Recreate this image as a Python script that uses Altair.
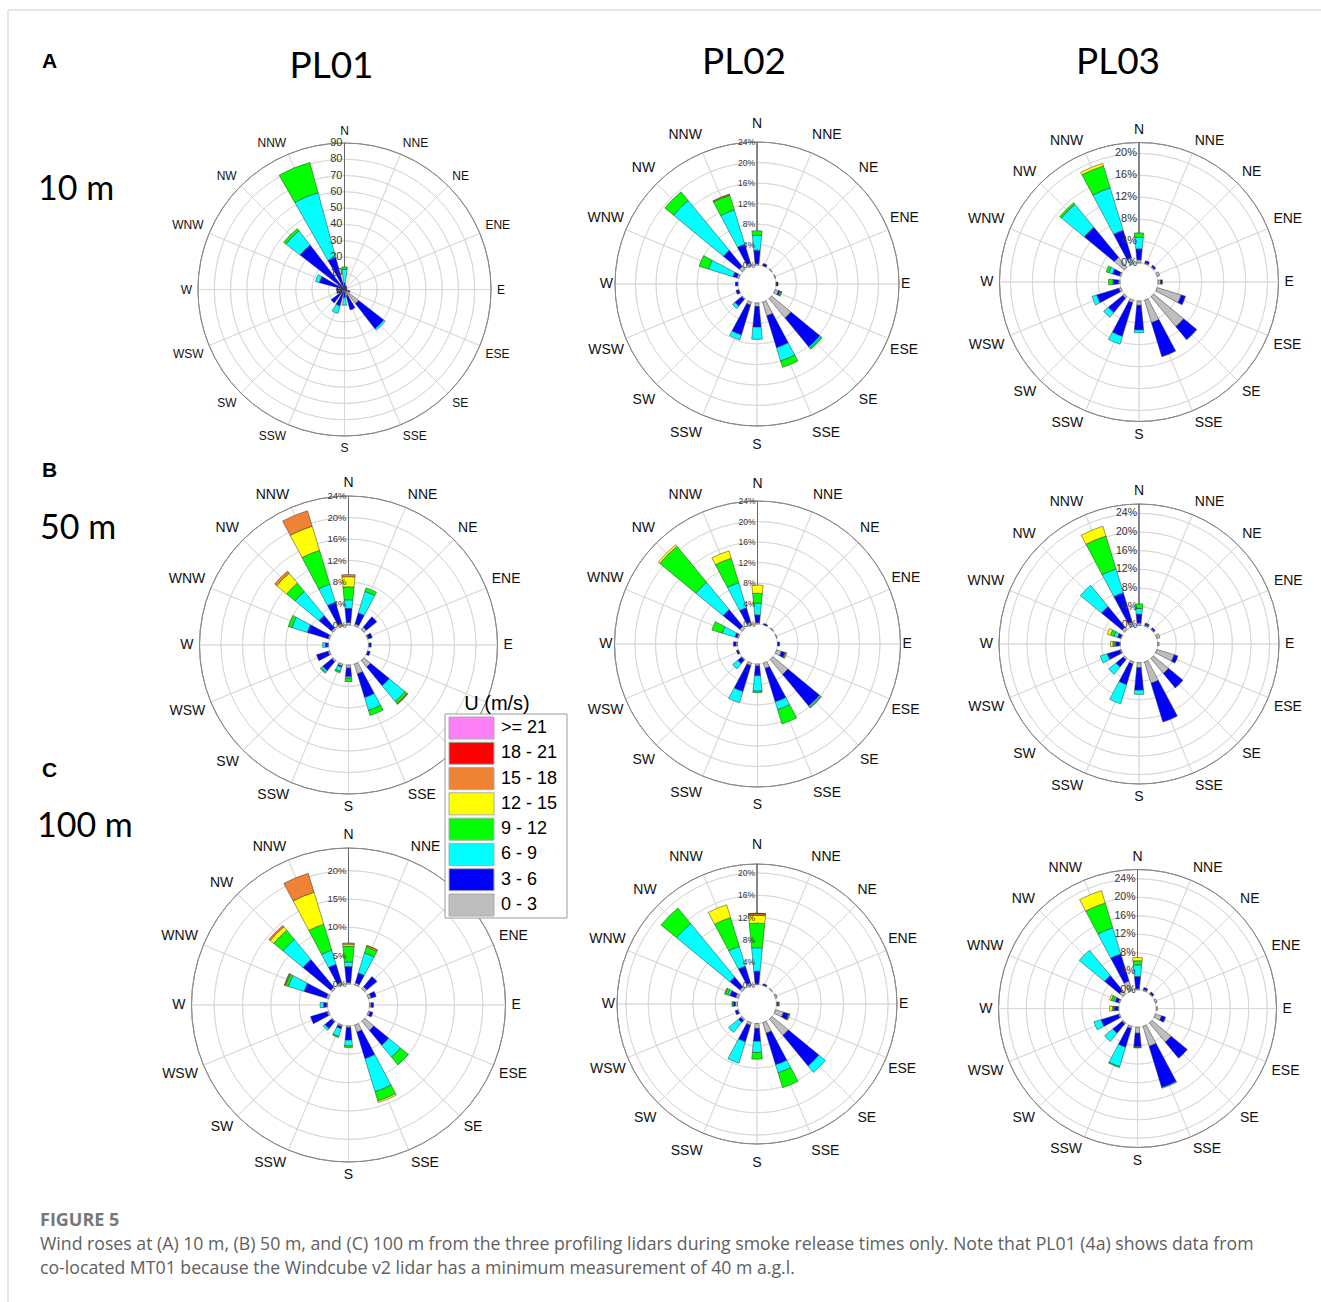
import math
import altair as alt
import pandas as pd

# ---------------------------------------------------------------- data
DIRS = ["N", "NNE", "NE", "ENE", "E", "ESE", "SE", "SSE",
        "S", "SSW", "SW", "WSW", "W", "WNW", "NW", "NNW"]
BINS = ["0 - 3", "3 - 6", "6 - 9", "9 - 12", "12 - 15", "15 - 18", "18 - 21", ">= 21"]
BIN_COLORS = ["#bebebe", "#0000ff", "#00ffff", "#00ff00", "#ffff00",
              "#ef8333", "#ff0000", "#ff80f6"]

# one row per direction (N ... NNW, clockwise); values per speed bin 0-3, 3-6, 6-9, ...
PL01_10M = [[1, 3, 8.4, 1.5], [0.5, 2], [0.5, 1.5], [0.5, 1], [0.5, 1], [1, 2.5],
            [11, 19.5, 1.2], [4, 9], [2, 3, 4.6], [2, 8.5, 4.8], [2, 8.4], [1, 4],
            [1, 4], [1, 15, 2.5], [1, 33.5, 11.1, 1.7], [1, 19.5, 41.1, 19.3]]
PL02_10M = [[0.3, 2.6, 2.9, 0.9], [0.1, 0.4], [0.15], [0.15], [0.1, 0.3],
            [0.7, 0.3, 0.2, 0.2], [4.9, 7.3, 0.3, 0.3], [2.8, 6.5, 2.7, 1.3],
            [0.7, 4.0, 2.4], [0.6, 6.1, 1.0], [0.2, 1.7, 0.6], [0.1, 0.5], [0.1, 0.4],
            [0.4, 0.8, 5.0, 1.9], [0.8, 4.0, 12.6, 2.2], [0.6, 3.8, 7.0, 3.0, 0.15, 0.1]]
PL03_10M = [[0.6, 2.0, 2.1, 0.8], [0.2, 0.4], [0.2, 0.3], [0.5], [0.5, 0.3], [4.6, 0.8],
            [7.1, 3.1], [4.3, 6.5], [0.8, 4.5, 0.5], [0.5, 6.4, 1.5], [0.4, 3.4, 1.1],
            [0.4, 4.2, 0.9], [0.3, 0.9, 0.1, 0.8], [0.3, 1.3, 0.7, 0.5],
            [2.4, 7.1, 5.4, 0.4], [1.2, 5.2, 8.1, 4.2, 0.5]]
PL01_50M = [[0.5, 2.6, 1.6, 2.4, 1.9, 0.4], [0.4, 2.1, 4.2, 0.7], [0.6, 2.5], [0.2, 0.7],
            [0.2, 0.3], [0.1, 0.4], [1.6, 4.5, 3.8, 0.5, 0.1, 0.1], [1.9, 4.6, 2.5, 1.0],
            [0.6, 1.6, 0.3, 0.6], [0.4, 0.2, 0.8, 0.3], [0.3, 2.2, 0.4, 0.2], [0.3, 2.2],
            [0.2, 0.4, 0.5], [0.3, 4.0, 3.0, 0.7], [0.4, 3.0, 5.8, 2.0, 2.4, 0.5],
            [0.5, 4.1, 3.5, 6.6, 4.7, 3.0]]
PL02_50M = [[0.3, 1.5, 2.3, 1.9, 1.6], [0.1, 0.2], [0.2], [0.1], [0.1, 0.3],
            [1.0, 0.7, 0.1, 0.1, 0.2], [3.8, 8.0, 0.3, 0.2], [1.1, 6.8, 1.6, 2.9],
            [0.4, 1.9, 3.0, 0.3], [0.5, 5.3, 2.3], [0.2, 0.9, 1.3], [0.1, 0.3], [0.3, 0.5],
            [0.3, 0.4, 2.6, 2.1], [0.6, 4.2, 6.9, 9.1, 0.4], [0.6, 2.9, 5.1, 5.0, 1.5]]
PL03_50M = [[0.5, 1.9, 1.2, 1.0], [0.3, 0.3, 0.1], [0.2, 0.3], [0.7], [0.3], [3.9, 0.8],
            [4.2, 4.0], [4.8, 8.7], [1.1, 4.8, 0.9], [0.5, 4.6, 4.3], [0.4, 2.0, 2.0],
            [0.3, 2.8, 1.6], [0.2, 0.8, 0.2, 0.4, 0.5], [0.2, 0.6, 0.8, 0.8, 0.7],
            [0.7, 5.7, 5.9], [1.0, 6.5, 5.3, 7.4, 2.2]]
PL01_100M = [[0.3, 2.8, 0.8, 2.8, 0.35, 0.2], [0.4, 1.8, 3.7, 1.1, 0.2, 0.1], [0.5, 2.3],
             [0.5, 0.9], [0.3, 0.4], [0.3, 0.5], [2.1, 3.4, 2.7, 1.8],
             [1.3, 4.9, 6.1, 1.7, 0.3], [0.3, 2.2, 1.0, 0.3], [0.3, 0.4, 1.4, 0.2],
             [0.2, 1.5, 0.4], [0.3, 3.0], [0.2, 0.5, 0.6], [0.4, 4.1, 2.9, 0.5, 0.15, 0.1],
             [0.4, 6.3, 4.6, 2.1, 0.8, 0.3], [0.5, 3.3, 2.6, 4.8, 5.9, 3.5]]
PL02_100M = [[0.2, 2.2, 4.2, 4.4, 1.4, 0.3, 0.1], [0.1, 0.2], [0.1], [0.3],
             [0.2, 0.1, 0, 0.1, 0.1], [1.5, 0.9, 0.1, 0.1, 0.1], [3.8, 7.1, 1.5],
             [2.0, 5.9, 1.5, 2.8], [0.9, 2.3, 2.0, 1.2], [0.5, 3.1, 4.0], [0.3, 0.5, 2.3],
             [0.2, 0.4], [0.4, 0.3, 0.1, 0.2], [0.5, 1.1, 0.4, 0.5, 0.1],
             [0.5, 2.3, 12.4, 3.6], [0.5, 3.1, 3.7, 5.4, 2.4]]
PL03_100M = [[0.3, 2.6, 2.5, 0.9, 0.7], [0.3, 0.4], [0.2, 0.4], [0.4], [0.3], [1.4, 0.9],
             [5.4, 4.5], [4.5, 9.3, 0.2], [1.3, 2.9, 0.2, 0.1], [0.5, 4.2, 4.4, 0.2],
             [0.3, 2.6, 2.3], [0.3, 3.9, 1.6], [0.2, 0.8, 0.2, 0.2, 0.6],
             [0.3, 0.7, 0.4, 0.5, 0.4], [1.0, 4.2, 7.1], [2.2, 6.1, 5.9, 5.6, 2.8]]

COLUMN_TITLES = ["PL01", "PL02", "PL03"]
ROW_LETTERS = ["A", "B", "C"]
ROW_HEIGHTS = ["10 m", "50 m", "100 m"]
CAPTION_HEAD = "FIGURE 5"
CAPTION_1 = ("Wind roses at (A) 10 m, (B) 50 m, and (C) 100 m from the three profiling lidars "
             "during smoke release times only. Note that PL01 (4a) shows data from")
CAPTION_2 = "co-located MT01 because the Windcube v2 lidar has a minimum measurement of 40 m a.g.l."

# ---------------------------------------------------------------- layout / style
FONT = "Liberation Sans"
PANELS = [
    dict(vals=PL01_10M, cx=344.5, cy=289.5, R=146.5, hole=0, vmax=90, rings=list(range(10, 90, 10)),
         labels=list(range(0, 91, 10)), pct=False, lab_fs=11, dir_fs=12, w=14.5),
    dict(vals=PL02_10M, cx=757, cy=284, R=142, hole=19, vmax=24, rings=[0, 4, 8, 12, 16, 20],
         labels=[0, 4, 8, 12, 16, 20, 24], pct=True, lab_fs=8.5, dir_fs=14, w=11, rh=138, rv=147.5),
    dict(vals=PL03_10M, cx=1139, cy=282, R=139.5, hole=19, vmax=22, rings=[0, 4, 8, 12, 16, 20],
         labels=[0, 4, 8, 12, 16, 20], pct=True, lab_fs=11, dir_fs=14, w=11),
    dict(vals=PL01_50M, cx=348.5, cy=645, R=149, hole=20, vmax=24, rings=[0, 4, 8, 12, 16, 20],
         labels=[0, 4, 8, 12, 16, 20, 24], pct=True, lab_fs=9.5, dir_fs=14, w=11,
         hide=["ESE", "SE"]),   # covered by the legend in the original
    dict(vals=PL02_50M, cx=757.5, cy=644, R=143, hole=20, vmax=24, rings=[0, 4, 8, 12, 16, 20],
         labels=[0, 4, 8, 12, 16, 20, 24], pct=True, lab_fs=8.5, dir_fs=14, w=11, rh=139, rv=147.5),
    dict(vals=PL03_50M, cx=1139, cy=644, R=140, hole=18.7, vmax=26, rings=[0, 4, 8, 12, 16, 20, 24],
         labels=[0, 4, 8, 12, 16, 20, 24], pct=True, lab_fs=10.5, dir_fs=14, w=11),
    dict(vals=PL01_100M, cx=348.5, cy=1005, R=157, hole=21, vmax=24, rings=[0, 5, 10, 15, 20],
         labels=[0, 5, 10, 15, 20], pct=True, lab_fs=9.5, dir_fs=14, w=11),
    dict(vals=PL02_100M, cx=757, cy=1004, R=140, hole=19.5, vmax=21.6, rings=[0, 4, 8, 12, 16, 20],
         labels=[0, 4, 8, 12, 16, 20], pct=True, lab_fs=8.5, dir_fs=14, w=11, rh=136, rv=146),
    dict(vals=PL03_100M, cx=1137.5, cy=1008.5, R=139, hole=18.7, vmax=26, rings=[0, 4, 8, 12, 16, 20, 24],
         labels=[0, 4, 8, 12, 16, 20, 24], pct=True, lab_fs=10.5, dir_fs=14, w=11),
]

THETA = alt.Scale(domain=[0, 360], range=[0, 2 * math.pi])
COLOR = alt.Scale(domain=BINS, range=BIN_COLORS)
CW = {"N": 0.722, "E": 0.667, "S": 0.667, "W": 0.944}
LABEL_GAP = 6


def sgn(v):
    return 0 if abs(v) < 1e-9 else (1 if v > 0 else -1)


def panel_layers(p):
    rs = alt.Scale(type="linear", domain=[0, p["vmax"]], range=[p["hole"], p["R"]], nice=False, zero=False)
    X, Y = alt.value(p["cx"]), alt.value(p["cy"])

    def rad(field):
        return alt.Radius(field, scale=rs, stack=False)

    def th(field):
        return alt.Theta(field, scale=THETA, stack=False)

    rows = []
    for i, segs in enumerate(p["vals"]):
        ang = i * 22.5
        cum = 0.0
        for b, v in enumerate(segs):
            if v <= 0:
                continue
            rows.append(dict(dir=DIRS[i], bin=BINS[b], t0=ang - p["w"] / 2, t1=ang + p["w"] / 2,
                             r0=cum, r1=cum + v))
            cum += v
    bars_df = pd.DataFrame(rows)

    ring_df = pd.DataFrame({"v": p["rings"], "t0": 0.0, "t1": 360.0})
    rings = alt.Chart(ring_df).mark_arc(fillOpacity=0, stroke="#d6d6d6", strokeWidth=0.8).encode(
        x=X, y=Y, theta=th("t0:Q"), theta2="t1:Q", radius=rad("v:Q"), radius2="v:Q")
    out_df = pd.DataFrame({"v": [float(p["vmax"])], "t0": [0.0], "t1": [360.0]})
    outer = alt.Chart(out_df).mark_arc(fillOpacity=0, stroke="#8a8a8a", strokeWidth=1).encode(
        x=X, y=Y, theta=th("t0:Q"), theta2="t1:Q", radius=rad("v:Q"), radius2="v:Q")
    sp_df = pd.DataFrame({"a": [i * 22.5 for i in range(16)], "r0": 0.0, "r1": float(p["vmax"])})
    spokes = alt.Chart(sp_df).mark_arc(fillOpacity=0, stroke="#d6d6d6", strokeWidth=0.8).encode(
        x=X, y=Y, theta=th("a:Q"), theta2="a:Q", radius=rad("r1:Q"), radius2="r0:Q")
    nsp = alt.Chart(sp_df.iloc[:1]).mark_arc(fillOpacity=0, stroke="#666666", strokeWidth=1).encode(
        x=X, y=Y, theta=th("a:Q"), theta2="a:Q", radius=rad("r1:Q"), radius2="r0:Q")
    bars = alt.Chart(bars_df).mark_arc(stroke="#333333", strokeWidth=0.5).encode(
        x=X, y=Y, theta=th("t0:Q"), theta2="t1:Q", radius=rad("r1:Q"), radius2="r0:Q",
        color=alt.Color("bin:N", scale=COLOR, legend=None))

    suffix = "%" if p["pct"] else ""
    lab_df = pd.DataFrame({"v": p["labels"], "a": 0.0,
                           "txt": [f"{v}{suffix}" for v in p["labels"]]})
    rlabels = alt.Chart(lab_df).mark_text(
        align="right", baseline="middle", dx=-2, fontSize=p["lab_fs"], font=FONT, color="#333333"
    ).encode(x=X, y=Y, theta=th("a:Q"), radius=rad("v:Q"), text="txt:N")

    # compass labels: anchored just outside the circle, aligned away from it
    ppu = (p["R"] - p["hole"]) / p["vmax"]
    rh, rv = p.get("rh", p["R"]), p.get("rv", p["R"])
    fs = p["dir_fs"]
    drows = []
    for i, d in enumerate(DIRS):
        if d in p.get("hide", []):
            continue
        t = math.radians(i * 22.5)
        s, c = math.sin(t), math.cos(t)
        wpx = sum(CW[ch] for ch in d) * fs
        px = (rh + LABEL_GAP) * s + sgn(s) * wpx / 2
        py = -(rv + LABEL_GAP) * c - sgn(c) * 0.5 * fs
        ang = math.degrees(math.atan2(px, -py)) % 360
        rpx = math.hypot(px, py)
        drows.append(dict(a=ang, txt=d, rv=(rpx - p["hole"]) / ppu))
    dlabels = alt.Chart(pd.DataFrame(drows)).mark_text(
        align="center", baseline="middle", fontSize=fs, font=FONT, color="#111111"
    ).encode(x=X, y=Y, theta=th("a:Q"), radius=rad("rv:Q"), text="txt:N")

    return [rings, spokes, outer, nsp, bars, rlabels, dlabels]


ONE = pd.DataFrame({"k": [0]})


def text(txt, x, y, size, font=FONT, weight="normal", color="#000000", align="left", baseline="alphabetic"):
    return alt.Chart(ONE).mark_text(
        text=txt, fontSize=size, font=font, fontWeight=weight, color=color,
        align=align, baseline=baseline
    ).encode(x=alt.value(x), y=alt.value(y))


layers = []
for p in PANELS:
    layers.extend(panel_layers(p))

# frame of the figure box
layers.append(alt.Chart(ONE).mark_rule(color="#cccccc", strokeWidth=1).encode(
    x=alt.value(8), x2=alt.value(1321), y=alt.value(10)))
layers.append(alt.Chart(ONE).mark_rule(color="#cccccc", strokeWidth=1).encode(
    x=alt.value(8), y=alt.value(10), y2=alt.value(1302)))

# titles and row labels
for t, x in zip(COLUMN_TITLES, [331.5, 744, 1118]):
    layers.append(text(t, x, 78 if t == "PL01" else 74, 37, font="Lato", align="center"))
for t, y in zip(ROW_LETTERS, [68, 477, 777]):
    layers.append(text(t, 42, y, 21, weight="bold"))
for t, x, y in zip(ROW_HEIGHTS, [38, 40, 37], [200, 539, 837]):
    layers.append(text(t, x, y, 34, font="Lato"))

# legend
LEG_ORDER = BINS[::-1]
leg_df = pd.DataFrame({"bin": LEG_ORDER})
ly = alt.Y("bin:N", scale=alt.Scale(domain=LEG_ORDER, range=[717, 916], paddingInner=0.13, paddingOuter=0),
           axis=None)
layers.append(alt.Chart(ONE).mark_rect(fill="#ffffff", stroke="#999999", strokeWidth=1).encode(
    x=alt.value(445), x2=alt.value(567), y=alt.value(714), y2=alt.value(918)))
layers.append(alt.Chart(leg_df).mark_rect(stroke="#aaaaaa", strokeWidth=1).encode(
    x=alt.value(449), x2=alt.value(494), y=ly,
    color=alt.Color("bin:N", scale=COLOR, legend=None)))
layers.append(alt.Chart(leg_df).mark_text(align="left", baseline="middle", fontSize=18, font=FONT,
                                          color="#000000").encode(
    x=alt.value(501), y=ly, text="bin:N"))
layers.append(text("U (m/s)", 497, 710, 20, align="center"))

# caption
layers.append(text(CAPTION_HEAD, 40, 1226, 18, font="Open Sans", weight="bold", color="#777777"))
layers.append(text(CAPTION_1, 40, 1250, 17.7, font="Open Sans", color="#606060"))
layers.append(text(CAPTION_2, 40, 1274, 17.7, font="Open Sans", color="#606060"))

chart = alt.layer(*layers).resolve_scale(radius="independent").properties(
    width=1321, height=1302, autosize=alt.AutoSizeParams(type="none"), padding=0,
    background="#ffffff"
).configure_view(stroke=None)

chart.save("out.html", embed_options={"renderer": "svg", "actions": False})
